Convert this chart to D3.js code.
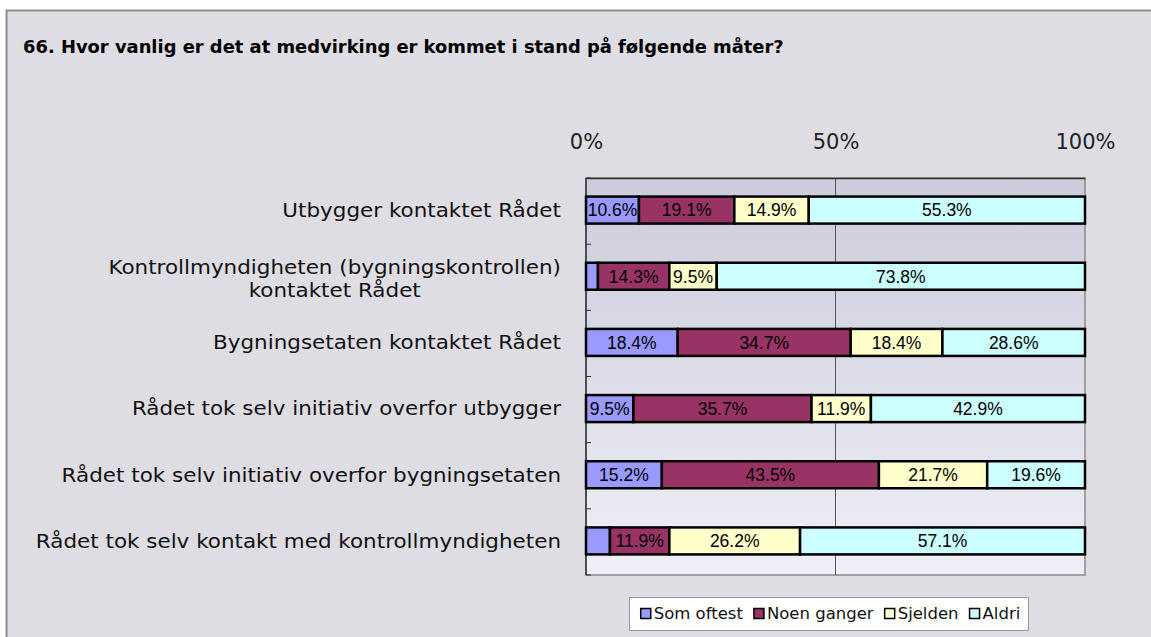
<!DOCTYPE html>
<html>
<head>
<meta charset="utf-8">
<script src="https://cdn.jsdelivr.net/npm/d3@7"></script>
<style>
  body { margin: 0; background: #fff; }
  svg { display: block; }
</style>
</head>
<body>
<div id="chart"></div>
<script>
const title = '66. Hvor vanlig er det at medvirking er kommet i stand på følgende måter?';
const categories = [
  'Utbygger kontaktet Rådet',
  'Kontrollmyndigheten (bygningskontrollen)\nkontaktet Rådet',
  'Bygningsetaten kontaktet Rådet',
  'Rådet tok selv initiativ overfor utbygger',
  'Rådet tok selv initiativ overfor bygningsetaten',
  'Rådet tok selv kontakt med kontrollmyndigheten'
];
const seriesNames = ['Som oftest', 'Noen ganger', 'Sjelden', 'Aldri'];
const seriesColors = ['#9999ff', '#993366', '#ffffcc', '#ccffff'];
const somOftest = [10.6, 2.4, 18.4, 9.5, 15.2, 4.8];
const noenGanger = [19.1, 14.3, 34.7, 35.7, 43.5, 11.9];
const sjelden = [14.9, 9.5, 18.4, 11.9, 21.7, 26.2];
const aldri = [55.3, 73.8, 28.6, 42.9, 19.6, 57.1];
const xTicks = [0, 0.5, 1];

const width = 1151, height = 637;
const plot = { left: 586, top: 178, right: 1085, bottom: 575 };

const svg = d3.select('#chart').append('svg')
  .attr('width', width)
  .attr('height', height);

// panel
svg.append('rect')
  .attr('x', 6.5).attr('y', 10.5)
  .attr('width', 1200).attr('height', 700)
  .attr('fill', '#dedde3')
  .attr('stroke', '#8c8c8c')
  .attr('stroke-width', 2);

svg.append('text')
  .attr('x', 23).attr('y', 53)
  .attr('font-family', 'DejaVu Sans')
  .attr('font-weight', 'bold')
  .attr('font-size', 17.9)
  .attr('fill', '#000')
  .text(title);

const rows = categories.map(function(c, i) {
  return { cat: c, 'Som oftest': somOftest[i], 'Noen ganger': noenGanger[i], 'Sjelden': sjelden[i], 'Aldri': aldri[i] };
});
const stacked = d3.stack().keys(seriesNames).offset(d3.stackOffsetExpand)(rows);

const x = d3.scaleLinear().domain([0, 1]).range([plot.left, plot.right]);
const y = d3.scaleBand().domain(categories).range([plot.top, plot.bottom]);
const color = d3.scaleOrdinal().domain(seriesNames).range(seriesColors);
const barH = 27;

// plot background
const defs = svg.append('defs');
const grad = defs.append('linearGradient').attr('id', 'plotbg')
  .attr('x1', 0).attr('y1', 0).attr('x2', 0).attr('y2', 1);
grad.append('stop').attr('offset', '0%').attr('stop-color', '#cbcbdb');
grad.append('stop').attr('offset', '100%').attr('stop-color', '#efeff7');

svg.append('rect')
  .attr('x', plot.left).attr('y', plot.top)
  .attr('width', plot.right - plot.left).attr('height', plot.bottom - plot.top)
  .attr('fill', 'url(#plotbg)')
  .attr('stroke', '#8a8a8a')
  .attr('stroke-width', 1.5);

// gridline at 50%
svg.append('line')
  .attr('x1', x(0.5)).attr('x2', x(0.5))
  .attr('y1', plot.top).attr('y2', plot.bottom)
  .attr('stroke', '#555').attr('stroke-width', 1);

// top axis
const xAxis = d3.axisTop(x)
  .tickValues(xTicks)
  .tickFormat(d3.format('.0%'))
  .tickSize(0)
  .tickPadding(29);
const xg = svg.append('g')
  .attr('transform', 'translate(0,' + plot.top + ')')
  .call(xAxis);
xg.select('.domain').attr('stroke', '#333').attr('stroke-width', 1.5);
xg.selectAll('text')
  .attr('font-family', 'DejaVu Sans')
  .attr('font-size', 21)
  .attr('fill', '#222');

// left axis line + ticks at band edges
svg.append('line')
  .attr('x1', plot.left).attr('x2', plot.left)
  .attr('y1', plot.top).attr('y2', plot.bottom)
  .attr('stroke', '#333').attr('stroke-width', 1.5);
const edges = categories.map(function(c) { return y(c); }).concat([plot.bottom]);
svg.append('g').selectAll('line')
  .data(edges)
  .enter().append('line')
  .attr('x1', plot.left).attr('x2', plot.left + 5)
  .attr('y1', function(d) { return d; }).attr('y2', function(d) { return d; })
  .attr('stroke', '#333').attr('stroke-width', 1);

// category labels
const labelX = 561;
const catG = svg.append('g')
  .attr('font-family', 'DejaVu Sans')
  .attr('font-size', 19)
  .attr('fill', '#111');
categories.forEach(function(c) {
  const lines = c.split('\n');
  const lh = 23;
  const cy = y(c) + y.bandwidth() / 2 - 1 + (lines.length > 1 ? 2 : 0);
  const g = catG.append('g')
    .attr('transform', 'translate(' + labelX + ',' + cy + ') scale(1.13,1)');
  const texts = lines.map(function(l, i) {
    return g.append('text')
      .attr('y', (i - (lines.length - 1) / 2) * lh)
      .attr('dy', '0.36em')
      .text(l);
  });
  const maxW = d3.max(texts, function(t) { return t.node().getComputedTextLength(); });
  texts.forEach(function(t) {
    t.attr('text-anchor', 'middle').attr('x', -maxW / 2);
  });
});

// bars
const layer = svg.append('g').selectAll('g')
  .data(stacked)
  .enter().append('g')
  .attr('fill', function(d) { return color(d.key); });

layer.selectAll('rect')
  .data(function(d) { return d; })
  .enter().append('rect')
  .attr('x', function(d) { return x(d[0]); })
  .attr('y', function(d) { return y(d.data.cat) + (y.bandwidth() - barH) / 2 - 1; })
  .attr('width', function(d) { return x(d[1]) - x(d[0]); })
  .attr('height', barH)
  .attr('stroke', '#000')
  .attr('stroke-width', 2.5);

// value labels
const fmt = function(v) { return v.toFixed(1) + '%'; };
stacked.forEach(function(s) {
  s.forEach(function(d) {
    const w = x(d[1]) - x(d[0]);
    const t = svg.append('text')
      .attr('x', (x(d[0]) + x(d[1])) / 2)
      .attr('y', y(d.data.cat) + y.bandwidth() / 2 - 1)
      .attr('dy', '0.36em')
      .attr('text-anchor', 'middle')
      .attr('font-family', 'Liberation Sans, Arial, sans-serif')
      .attr('font-size', 17.5)
      .attr('fill', '#000')
      .text(fmt(d.data[s.key]));
    if (t.node().getComputedTextLength() > w) t.remove();
  });
});

// legend
const legend = svg.append('g')
  .attr('font-family', 'DejaVu Sans')
  .attr('font-size', 16.5)
  .attr('fill', '#111');
const legBox = legend.append('rect')
  .attr('fill', '#fff')
  .attr('stroke', '#999')
  .attr('stroke-width', 1);
let lx = 0;
const items = legend.append('g');
seriesNames.forEach(function(name, i) {
  items.append('rect')
    .attr('x', lx).attr('y', -5)
    .attr('width', 10).attr('height', 10)
    .attr('fill', color(name))
    .attr('stroke', '#000').attr('stroke-width', 1.5);
  const t = items.append('text')
    .attr('x', lx + 13).attr('dy', '0.36em')
    .text(name);
  lx += 13 + t.node().getComputedTextLength() + (i < seriesNames.length - 1 ? 11 : 0);
});
const legCx = 828, legCy = 613.5;
const legW = lx + 12 + 7;
const legX = legCx - legW / 2;
items.attr('transform', 'translate(' + (legX + 12) + ',' + legCy + ')');
legBox.attr('x', Math.round(legX) + 0.5).attr('y', 597.5)
  .attr('width', Math.round(legW)).attr('height', 33);
</script>
</body>
</html>
